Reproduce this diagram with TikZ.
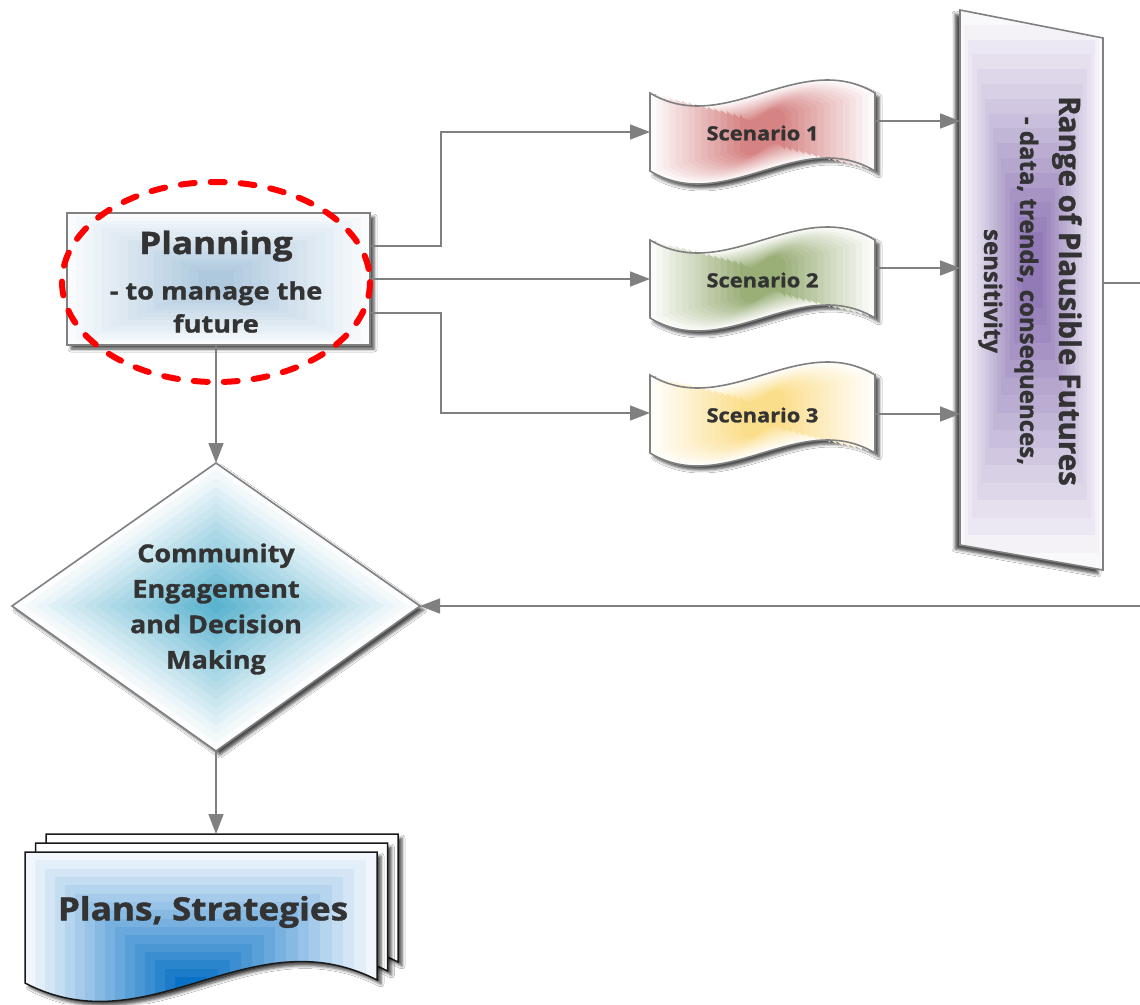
\documentclass[tikz,border=0pt]{standalone}
\usepackage{fontspec}
\usepackage{graphicx}
\setmainfont{Open Sans}[BoldFeatures={FakeBold=1.2}]
\usetikzlibrary{arrows.meta,shadows.blur,calc}
\definecolor{txt}{RGB}{51,51,51}
\definecolor{lnc}{RGB}{128,128,128}
\definecolor{planc}{RGB}{140,178,208}
\definecolor{redc}{RGB}{196,78,78}
\definecolor{grnc}{RGB}{110,140,62}
\definecolor{yelc}{RGB}{250,208,90}
\definecolor{purc}{RGB}{110,80,158}
\definecolor{tealc}{RGB}{50,160,195}
\definecolor{bluc}{RGB}{0,108,195}
\newcommand\wx[1]{\scalebox{1.1}[1]{#1}}
\newcommand\scen[4]{%
  \begin{scope}[shift={(762.5,#1)}]
    \fill[white, shd] (-112.5,-39) .. controls (-37.5,6) and (37.5,-84) .. (112.5,-39) -- (112.5,39) .. controls (37.5,-6) and (-37.5,84) .. (-112.5,39) -- cycle;
    \foreach \i in {0,...,14}{
      \pgfmathsetmacro\mysx{1-0.8*\i/14}
      \pgfmathsetmacro\mysy{1-0.55*\i/14}
      \pgfmathtruncatemacro\mypc{3+67*\i/14}
      \fill[#2!\mypc!white, xscale=\mysx, yscale=\mysy] (-112.5,-39) .. controls (-37.5,6) and (37.5,-84) .. (112.5,-39) -- (112.5,39) .. controls (37.5,-6) and (-37.5,84) .. (-112.5,39) -- cycle;
    }
    \draw[lnc, line width=1.6pt] (-112.5,-39) .. controls (-37.5,6) and (37.5,-84) .. (112.5,-39) -- (112.5,39) .. controls (37.5,-6) and (-37.5,84) .. (-112.5,39) -- cycle;
    \node[lbl, font=\bfseries\fontsize{19.5}{24}\selectfont] (#4) at (0,1) {\scalebox{1.12}[1]{#3}};
  \end{scope}}
\begin{document}
\begin{tikzpicture}[x=1pt,y=-1pt,
  conn/.style={draw=lnc, line width=1.6pt, -{Triangle[length=20pt,width=15pt]}},
  lbl/.style={text=txt, inner sep=0pt, align=center},
  shd/.style={blur shadow={shadow xshift=4pt,shadow yshift=-4pt,shadow blur radius=3pt,shadow opacity=70}},
  shdl/.style={blur shadow={shadow xshift=-5pt,shadow yshift=-4pt,shadow blur radius=3pt,shadow opacity=70}},
  sheetline/.style={draw=black!90, line width=1.5pt}]
\fill[white] (0,0) rectangle (1140,1004);
\useasboundingbox (0,0) rectangle (1140,1004);

% ---------- Planning box
\fill[white, shd] (67,213) rectangle (370,345);
\foreach \i in {0,...,15}{
  \pgfmathsetmacro\myt{\i/15}
  \pgfmathtruncatemacro\mypc{5+65*\myt}
  \fill[planc!\mypc!white] ({67+\myt*131},{213+\myt*57}) rectangle ({370-\myt*136},{345-\myt*53});
}
\node[draw=lnc, line width=2pt, minimum width=303pt, minimum height=132pt, inner sep=0pt] (plan) at (218.5,279) {};
\node[lbl, font=\bfseries\fontsize{31}{36}\selectfont] (pt1) at (216,246) {\scalebox{1.13}[1]{Planning}};
\node[lbl, font=\bfseries\fontsize{24}{33}\selectfont] (pt2) at (216,307) {\scalebox{1.13}[1]{- to manage the}\\\scalebox{1.13}[1]{future}};

% ---------- Scenarios
\scen{132}{redc}{Scenario 1}{s1}
\scen{279}{grnc}{Scenario 2}{s2}
\scen{414}{yelc}{Scenario 3}{s3}
\coordinate (s1w) at (650,132);
\coordinate (s2w) at (650,279);
\coordinate (s3w) at (650,413);
\coordinate (s1e) at (876,121);
\coordinate (s2e) at (876,268);
\coordinate (s3e) at (876,414);

% ---------- Range box
\fill[white, shdl] (960,10) -- (1103,38) -- (1103,570) -- (960,545) -- cycle;
\begin{scope}
  \clip (960,10) -- (1103,38) -- (1103,570) -- (960,545) -- cycle;
  \foreach \i in {0,...,15}{
    \pgfmathsetmacro\myt{\i/15}
    \pgfmathtruncatemacro\mypc{4+72*\myt}
    \fill[purc!\mypc!white] ({960+\myt*62},{10+\myt*222}) rectangle ({1103-\myt*60},{570-\myt*262});
  }
\end{scope}
\draw[lnc, line width=1.6pt] (960,10) -- (1103,38) -- (1103,570) -- (960,545) -- cycle;
\node[lbl, rotate=-90, font=\bfseries\fontsize{24}{36}\selectfont] (rng) at (1030,291)
  {{\fontsize{29.5}{30}\selectfont Range of Plausible Futures}\\[3pt]- data, trends, consequences,\\sensitivity};
\coordinate (r1) at (960,121);
\coordinate (r2) at (960,268);
\coordinate (r3) at (960,414);
\coordinate (rE) at (1103,283);

% ---------- Diamond
\fill[white, shd] (12,606) -- (216,463) -- (420,606) -- (216,751) -- cycle;
\foreach \i in {0,...,16}{
  \pgfmathsetmacro\myt{\i/16}
  \pgfmathsetmacro\myw{204*(1-0.95*\myt)}
  \pgfmathsetmacro\myh{145*(1-0.95*\myt)}
  \pgfmathtruncatemacro\mypc{2+78*\myt}
  \fill[tealc!\mypc!white] ({216-\myw},606) -- (216,{606-\myh}) -- ({216+\myw},606) -- (216,{606+\myh}) -- cycle;
}
\draw[lnc, line width=1.6pt] (12,606) -- (216,463) -- (420,606) -- (216,751) -- cycle;
\coordinate (dN) at (216,463);
\coordinate (dE) at (420,606);
\coordinate (dS) at (216,751);
\node[lbl, font=\bfseries\fontsize{24.5}{35.5}\selectfont] (dia) at (216,609) {\wx{Community}\\\wx{Engagement}\\\wx{and Decision}\\\wx{Making}};

% ---------- Plans (multi document)
\foreach \k in {2,1}{
  \begin{scope}[shift={(10.5*\k,-9*\k)}]
    \fill[white, shd] (25,852) -- (377,852) -- (377,980) .. controls (250,915) and (150,1048) .. (25,983) -- cycle;
    \draw[sheetline] (25,852) -- (377,852) -- (377,980) .. controls (250,915) and (150,1048) .. (25,983) -- cycle;
  \end{scope}
}
\fill[white, shd] (25,852) -- (377,852) -- (377,980) .. controls (250,915) and (150,1048) .. (25,983) -- cycle;
\begin{scope}
  \clip (25,852) -- (377,852) -- (377,980) .. controls (250,915) and (150,1048) .. (25,983) -- cycle;
  \foreach \i in {0,...,15}{
    \pgfmathsetmacro\myt{\i/15}
    \pgfmathtruncatemacro\mypc{6+90*\myt}
    \fill[bluc!\mypc!white] ({25+\myt*150},{852+\myt*125}) rectangle ({377-\myt*170},1015);
  }
\end{scope}
\draw[sheetline] (25,852) -- (377,852) -- (377,980) .. controls (250,915) and (150,1048) .. (25,983) -- cycle;
\coordinate (plN) at (216,834);
\node[lbl, font=\bfseries\fontsize{32}{40}\selectfont] (plans) at (203,912) {\wx{Plans, Strategies}};

% ---------- Connectors
\draw[conn] ([yshift=33pt]plan.east) -- ++(70,0) |- (s1w);
\draw[conn] (plan.east) -- (s2w);
\draw[conn] ([yshift=-34pt]plan.east) -- ++(70,0) |- (s3w);
\draw[conn] (s1e) -- (r1);
\draw[conn] (s2e) -- (r2);
\draw[conn] (s3e) -- (r3);
\draw[conn] (rE) -- ++(70,0) |- (dE);
\draw[conn] (plan.south -| dN) -- (dN);
\draw[conn] (dS) -- (plN);

% ---------- red dashed ellipse
\draw[red, line width=6pt, dash pattern=on 14pt off 16pt, line cap=round] (216,282) ellipse [x radius=154, y radius=100];
\end{tikzpicture}
\end{document}
